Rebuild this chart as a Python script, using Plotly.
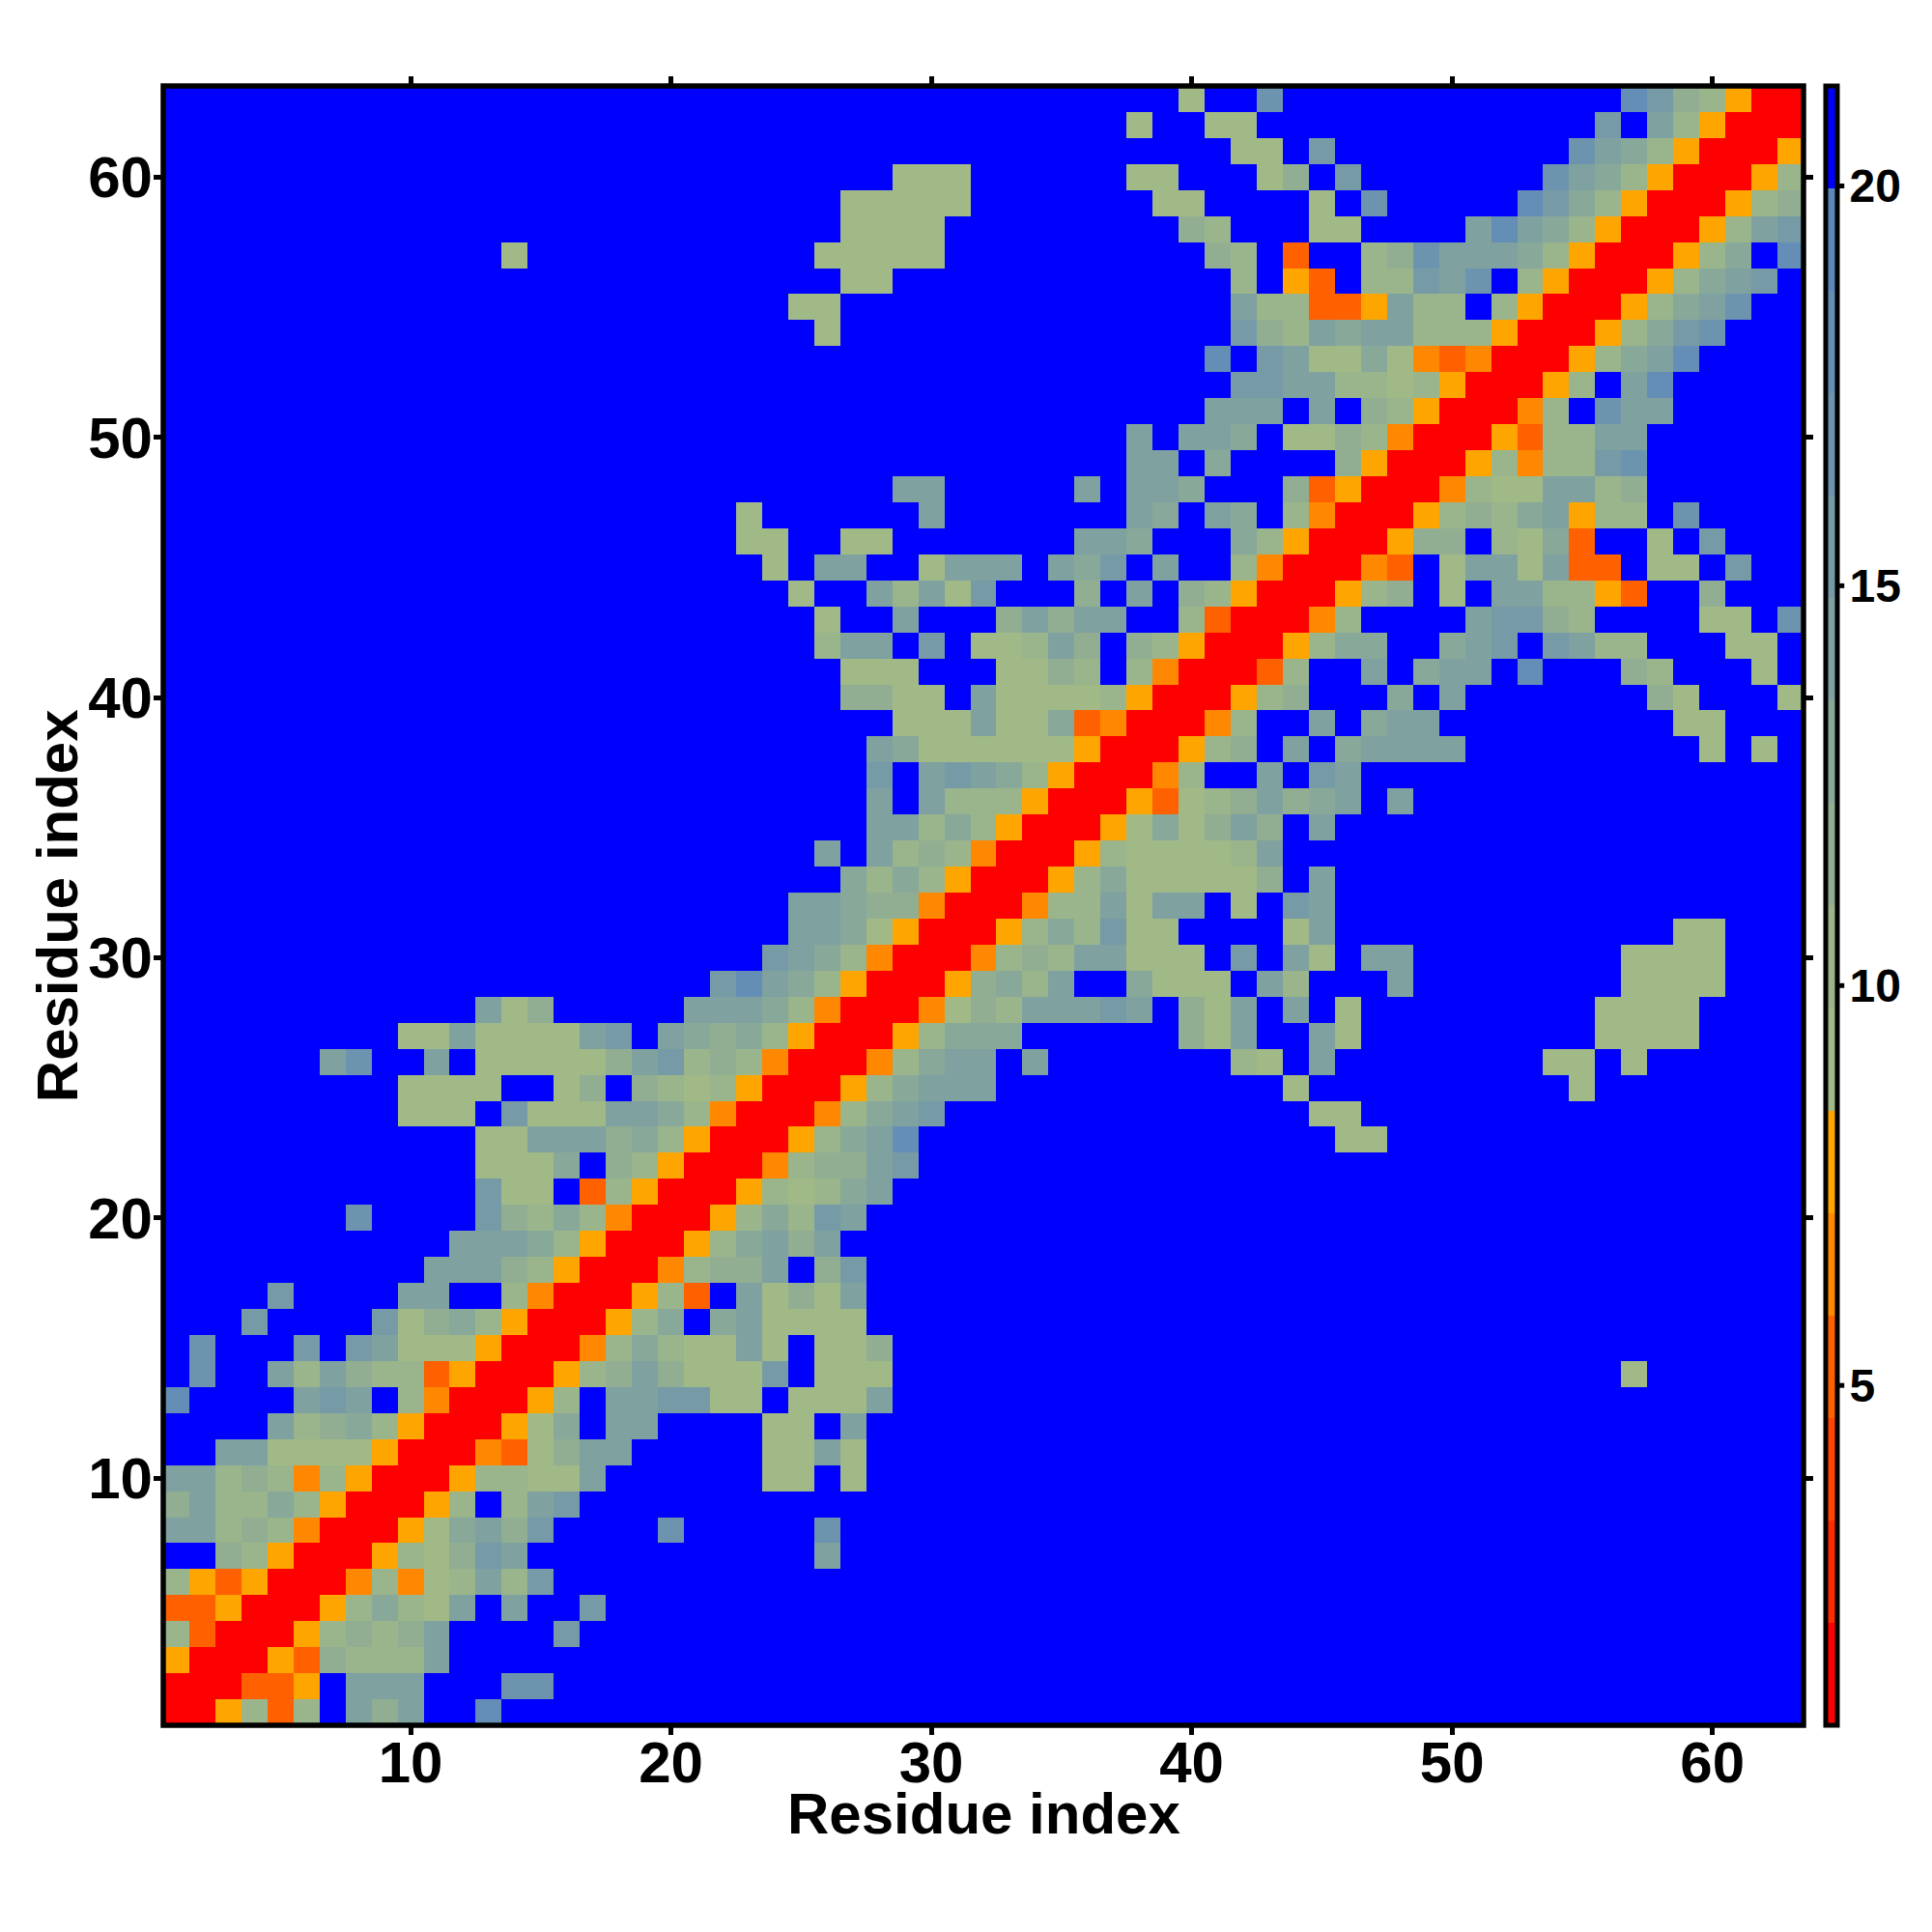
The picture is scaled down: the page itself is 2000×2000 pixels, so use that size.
import plotly.graph_objects as go

# Residue numbering and axis ticks
residues = list(range(1, 64))
axis_ticks = [10, 20, 30, 40, 50, 60]
colorbar_ticks = [5, 10, 15, 20]
axis_title = "Residue index"

# Distance classes: one character per class
class_symbols = "0123456789abcde."
class_width = 1.28125
z_low = 0.75
z_high = 21.25
class_colors = ["#ff0000", "#ff2a00", "#ff4500", "#ff6000", "#ff8800", "#ffa500",
                "#a1b986", "#9ab58b", "#91ae92", "#88a899", "#7fa1a0", "#769ba7",
                "#6d94ae", "#648eb5", "#5b87bb", "#0000ff"]

# Lower half of the symmetric map, row r holds residues 1..r
half_rows = [
    "0",
    "00",
    "500",
    "7300",
    "33500",
    "753500",
    "..87500",
    "aa787400",
    "8a7797500",
    "aa78747500",
    "..aa6666500",
    "....a7897500",
    "d....aba.7400",
    ".c..a7a8773500",
    ".c...b.ba666500",
    "...b....b6897500",
    "....b....aa..7400",
    "..........aaa87500",
    "...........aaa97500",
    ".......c....b8797400",
    "............b66.37500",
    "............6669.87500",
    "............66aaa897500",
    ".........666.b666aa97400",
    ".........6666..68.8767500",
    "......ac..a.666668ab787400",
    ".........66a6666ab.a9897500",
    "............a68.....aaa97400",
    "." * 21 + "bda97500",
    "." * 23 + "ba97400",
    "." * 24 + "aa96500",
    "." * 24 + "aa988400",
    "." * 26 + "9797500",
    "." * 25 + "a.a787400",
    "." * 27 + "aa797500",
    "." * 27 + "a.a777500",
    "." * 27 + "b.aba97500",
    "." * 27 + "a966666650" + "0",
    "." * 28 + "666a6693400",
    "." * 26 + "8866.a66667500",
    "." * 26 + "666...6687.7400",
    "." * 25 + "7aa.b.667a8.87500",
    "." * 25 + "6..a...8a8aa..7300",
    "." * 24 + "6..a7a6b...8.a.87500",
    "." * 23 + "6.aa..6aaa.a9b.a..7400",
    "." * 22 + "66..66.......aa9...97500",
    "." * 22 + "6......a.......a9.a9.7400",
    "." * 28 + "aa.....a.aa9...83500",
    "." * 37 + "aa.9....8500",
    "." * 37 + "a.aa9.6687400",
    "." * 40 + "aaa.a.87500",
    "." * 41 + "bbaa7767500",
    "." * 40 + "d.ba669643400",
    "." * 25 + "6" + "." * 15 + "b87a9aa777500",
    "." * 24 + "66" + "." * 15 + "a77335a77.7500",
    "." * 26 + "66" + "." * 13 + "7.53.77bac.7500",
    "." * 13 + "6" + "." * 11 + "66666" + "." * 10 + "87.3..78caaa97500",
    "." * 26 + "6666" + "." * 9 + "87...66....ada97500",
    "." * 26 + "66666" + "." * 7 + "66....6.c.....db97500",
    "." * 28 + "666" + "." * 6 + "66...68.b.......ca97500",
    "." * 41 + "66.b" + "." * 9 + "ca97500",
    "." * 37 + "6..66" + "." * 13 + "b.a7500",
    "." * 39 + "6..c" + "." * 13 + "db87500",
]

size = len(residues)
assert all(len(r) == i + 1 for i, r in enumerate(half_rows))


def class_value(symbol):
    return z_low + class_width * (class_symbols.index(symbol) + 0.5)


z = [[None] * size for _ in range(size)]
for i, row in enumerate(half_rows):
    for j, symbol in enumerate(row):
        z[i][j] = z[j][i] = class_value(symbol)

n = len(class_colors)
colorscale = []
for k, color in enumerate(class_colors):
    colorscale.append([k / n, color])
    colorscale.append([(k + 1) / n, color])

FONT = "Liberation Sans"
left, right, top, bottom = 169.3, 1866.8, 89.3, 1786.5
plot_w = right - left

fig = go.Figure(go.Heatmap(
    x=residues, y=residues, z=z,
    zmin=z_low, zmax=z_high, colorscale=colorscale,
    colorbar=dict(
        x=(1889.5 - left) / plot_w, xanchor="left", xpad=0,
        y=0, yanchor="bottom", ypad=0,
        lenmode="fraction", len=1,
        thicknessmode="pixels", thickness=12,
        outlinecolor="black", outlinewidth=5, borderwidth=0,
        tickmode="array", tickvals=colorbar_ticks,
        ticks="",
        tickfont=dict(family=FONT, size=48, color="black", weight="bold"),
    ),
))

axis_style = dict(
    range=[0.5, 63.5], tickmode="array", tickvals=axis_ticks,
    showgrid=False, zeroline=False, showline=False,
    mirror="ticks", ticks="outside", ticklen=9, tickwidth=5, tickcolor="black",
    tickfont=dict(family=FONT, size=60, color="black", weight="bold"),
)
title_font = dict(family=FONT, size=60, color="black", weight="bold")
fig.update_xaxes(**axis_style, ticklabelstandoff=-23)
fig.update_yaxes(**axis_style, ticklabelstandoff=-11)

frame = dict(type="rect", xref="paper", yref="paper", x0=0, x1=1, y0=0, y1=1,
             line=dict(color="black", width=5.5), layer="above")
colorbar_tick_marks = [
    dict(type="line", xref="paper", yref="paper",
         x0=(1902 - left) / plot_w, x1=(1909 - left) / plot_w,
         y0=(v - z_low) / (z_high - z_low), y1=(v - z_low) / (z_high - z_low),
         line=dict(color="black", width=5), layer="above")
    for v in colorbar_ticks
]
fig.update_layout(
    width=2000, height=2000, autosize=False,
    margin=dict(l=left, r=2000 - right, t=top, b=2000 - bottom, autoexpand=False),
    paper_bgcolor="white", plot_bgcolor="white", showlegend=False,
    shapes=[frame] + colorbar_tick_marks,
    annotations=[
        dict(text=axis_title, font=title_font, showarrow=False,
             xref="paper", yref="paper", x=0.5, y=0, xanchor="center", yanchor="middle",
             yshift=-(1878 - bottom)),
        dict(text=axis_title, font=title_font, showarrow=False, textangle=-90,
             xref="paper", yref="paper", x=0, y=0.5, xanchor="center", yanchor="middle",
             xshift=-(left - 60)),
    ],
)
fig.write_html("out.html", config={"displayModeBar": False},
               post_script="document.body.style.margin='0';")
